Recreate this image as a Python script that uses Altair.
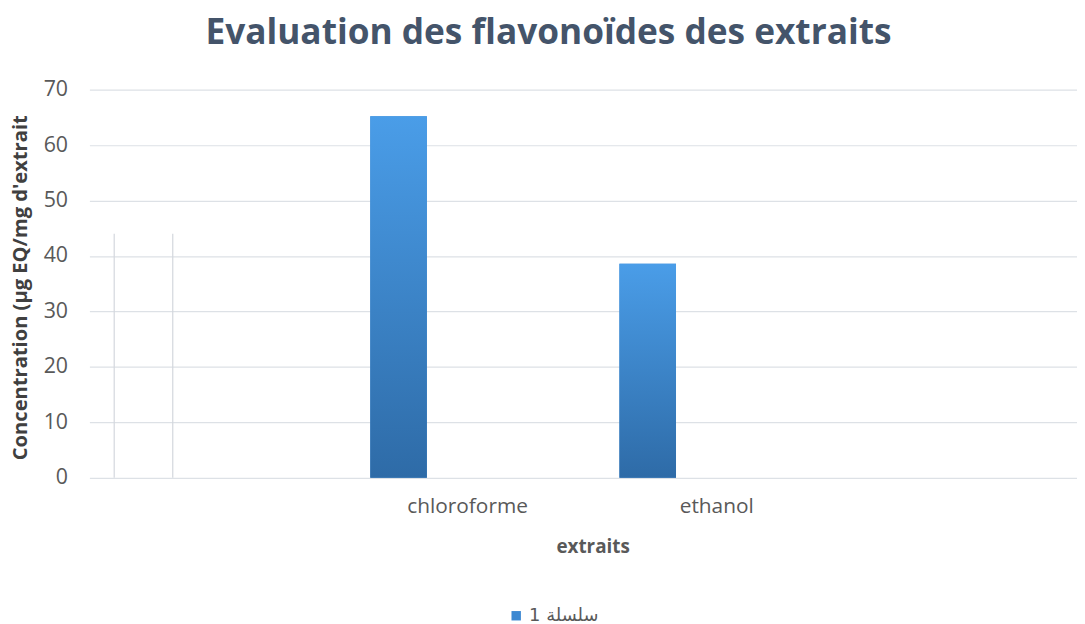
import altair as alt
import pandas as pd

categories = [" ", "chloroforme", "ethanol", "  "]
values = [None, 65.2, 38.6, None]
series_name = "1 سلسلة"

df = pd.DataFrame({"extrait": categories, "valeur": values, "serie": [series_name] * 4})

x_enc = alt.X(
    "extrait:N",
    sort=categories,
    scale=alt.Scale(domain=categories, paddingInner=0.036, paddingOuter=0, align=0),
    axis=alt.Axis(
        title="extraits", labelAngle=0, ticks=False, domain=False, grid=False,
        labelFont="Open Sans", labelFontSize=21, labelColor="#595959", labelPadding=18,
        labelOffset=9,
        titleFont="Open Sans", titleFontSize=19, titleFontWeight="bold", titleColor="#595959",
        titleX=507, titleY=69, titleBaseline="middle",
    ),
)
y_enc = alt.Y(
    "valeur:Q",
    scale=alt.Scale(domain=[0, 70]),
    axis=alt.Axis(
        title="Concentration (µg EQ/mg d'extrait", values=[0, 10, 20, 30, 40, 50, 60, 70],
        ticks=False, domain=False, grid=True, gridColor="#DDE1E6", gridWidth=1.2,
        labelFont="Open Sans", labelFontSize=21.5, labelColor="#595959", labelPadding=22,
        titleFont="Open Sans", titleFontSize=20.3, titleFontWeight="bold", titleColor="#404040",
        titleX=-69, titleY=199, titleBaseline="middle", titleAlign="center", titleAngle=270,
    ),
)

base = alt.Chart(df)

legend_bars = base.mark_bar(width=57, xOffset=-60.5).encode(
    x=x_enc,
    y=y_enc,
    color=alt.Color(
        "serie:N",
        scale=alt.Scale(range=["#3C88D2"]),
        legend=alt.Legend(
            title=None, orient="none", legendX=421, legendY=521,
            symbolType="square", symbolSize=90, labelFont="DejaVu Sans",
            labelFontSize=18, labelColor="#595959",
        ),
    ),
)

grad = alt.Gradient(
    gradient="linear",
    stops=[alt.GradientStop(color="#4A9DE8", offset=0), alt.GradientStop(color="#2E6BA7", offset=1)],
    x1=0, x2=0, y1=0, y2=1,
)
gradient_bars = base.mark_bar(width=57, xOffset=-60.5, color=grad).encode(x=x_enc, y=y_enc)

vlines = alt.Chart(pd.DataFrame({"px": [25, 84]})).mark_rule(color="#D3D7DD", strokeWidth=1.2).encode(
    x=alt.X("px:Q", scale=None),
    y=alt.datum(44),
    y2=alt.datum(0),
)

chart = alt.layer(legend_bars, gradient_bars, vlines).properties(
    width=995,
    height=391,
    title=alt.TitleParams(
        "Evaluation des flavonoïdes des extraits",
        font="Open Sans", fontSize=35.5, fontWeight="bold", color="#44546A",
        anchor="middle", dx=-35, offset=28,
    ),
    autosize=alt.AutoSizeParams(type="none"),
    padding={"left": 82, "top": 80, "right": 0, "bottom": 145},
).configure_view(stroke=None)

chart.save("out.html", embed_options={"renderer": "svg", "actions": False})
